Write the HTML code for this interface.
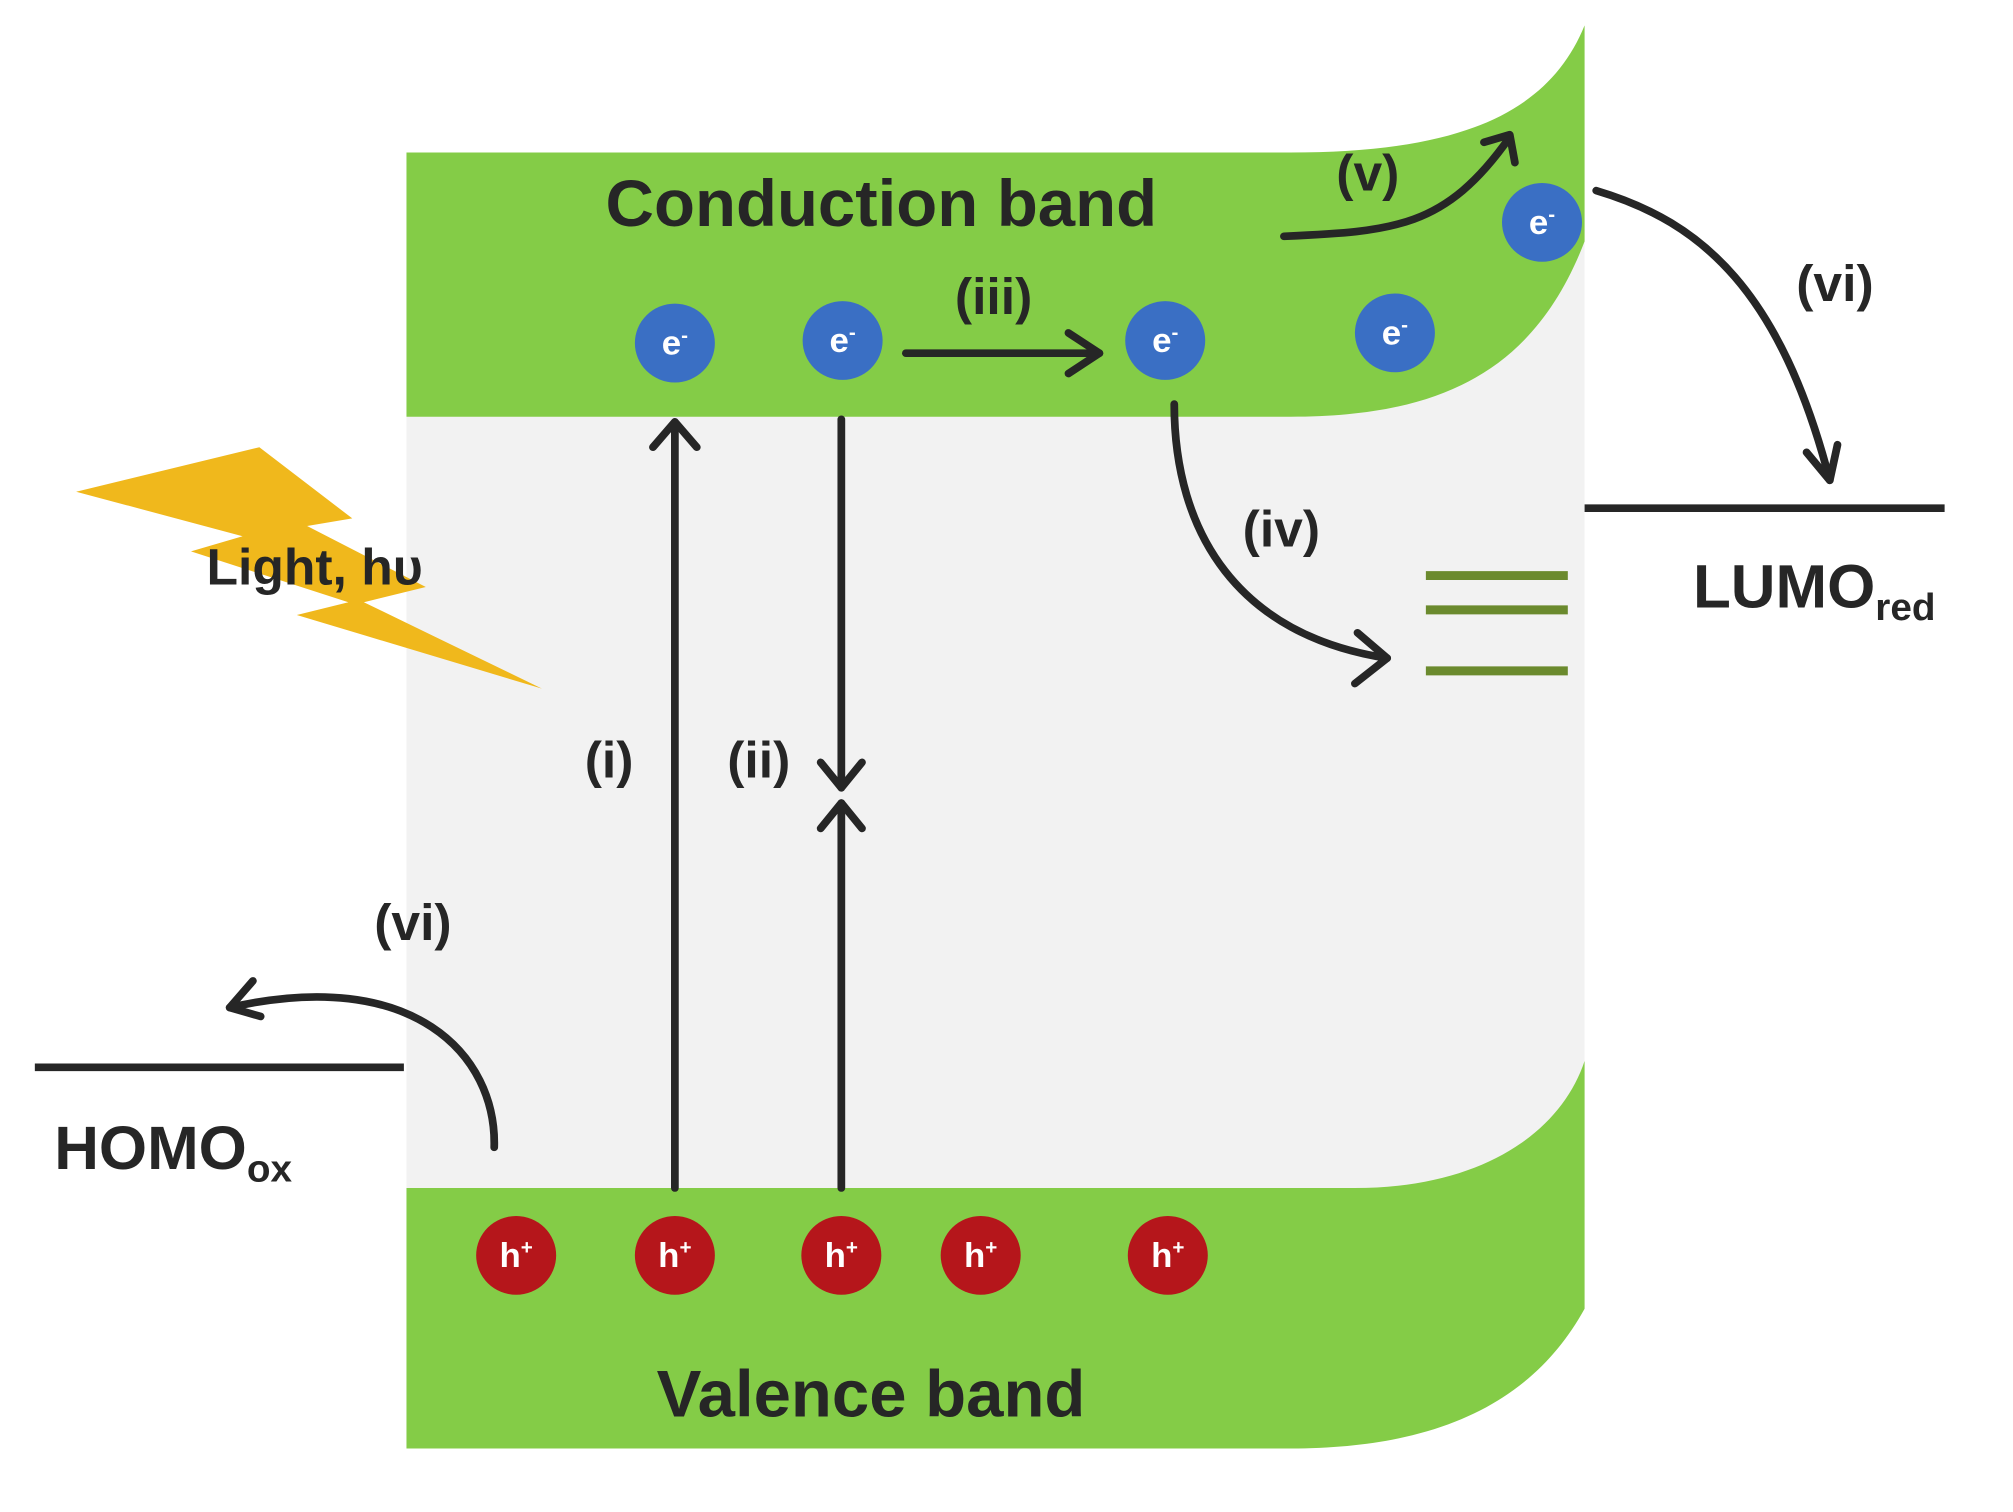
<!DOCTYPE html>
<html><head><meta charset="utf-8"><style>
html,body{margin:0;padding:0;background:#fff;}
svg{display:block;}
text{font-family:"Liberation Sans",sans-serif;font-weight:bold;fill:#262626;}
</style></head><body>
<svg width="2013" height="1512" viewBox="0 0 1560 1190" preserveAspectRatio="none" xmlns="http://www.w3.org/2000/svg">
<rect x="315" y="180" width="913" height="770" fill="#f2f2f2"/>
<path d="M315,120 L1000,120 C1130,120 1200,90 1228,20 L1228,190 C1190,290 1120,328 1000,328 L315,328 Z" fill="#84cc47"/>
<path d="M315,935 L1050,935 C1150,935 1210,890 1228,835 L1228,1030 C1190,1100 1120,1140 1000,1140 L315,1140 Z" fill="#84cc47"/>
<polygon points="59,387 201,352 273,408 238,414 330,462 282,474 420,542 230,484 270,474 148,434 188,422" fill="#f0b81c"/>
<text x="160" y="460" font-size="40">Light, hυ</text>
<text x="683" y="178" font-size="52" text-anchor="middle">Conduction band</text>
<text x="675" y="1115" font-size="52" text-anchor="middle">Valence band</text>
<g stroke="#262626" stroke-width="6" fill="none" stroke-linecap="round" stroke-linejoin="round">
<line x1="523" y1="935" x2="523" y2="335"/><polyline points="506,352 523,332 540,352"/>
<line x1="652" y1="330" x2="652" y2="620"/><polyline points="636,600 652,620 668,600"/>
<line x1="652" y1="935" x2="652" y2="632"/><polyline points="636,652 652,632 668,652"/>
<line x1="702" y1="278" x2="852" y2="278"/><polyline points="828,262 852,278 828,294"/>
<path d="M995,186 C1080,182 1120,180 1170,108"/><polyline points="1150,112 1170,106 1174,128"/>
<path d="M1237,150 C1320,175 1380,230 1418,378"/><polyline points="1400,356 1418,378 1424,350"/>
<path d="M910,318 C910,420 960,500 1075,518"/><polyline points="1052,498 1075,518 1050,538"/>
<path d="M383,903 C385,830 320,760 178,793"/><polyline points="196,772 178,793 202,800"/>
</g>
<line x1="1228" y1="400" x2="1507" y2="400" stroke="#262626" stroke-width="6"/>
<line x1="27" y1="840" x2="313" y2="840" stroke="#262626" stroke-width="6"/>
<g stroke="#6b8a2e" stroke-width="7">
<line x1="1105" y1="453" x2="1215" y2="453"/><line x1="1105" y1="480" x2="1215" y2="480"/><line x1="1105" y1="528" x2="1215" y2="528"/>
</g>
<text x="1312" y="478" font-size="48">LUMO<tspan font-size="30" dy="10">red</tspan></text>
<text x="42" y="920" font-size="48">HOMO<tspan font-size="30" dy="10">ox</tspan></text>
<g font-size="40" text-anchor="middle">
<text x="472" y="612">(i)</text><text x="588" y="612">(ii)</text><text x="770" y="247">(iii)</text>
<text x="993" y="430">(iv)</text><text x="1060" y="150">(v)</text><text x="1422" y="237">(vi)</text><text x="320" y="740">(vi)</text>
</g>
<g fill="#3a6fc4">
<circle cx="523" cy="270" r="31"/><circle cx="653" cy="268" r="31"/><circle cx="903" cy="268" r="31"/><circle cx="1081" cy="262" r="31"/><circle cx="1195" cy="175" r="31"/>
</g>
<g fill="#b5161b">
<circle cx="400" cy="988" r="31"/><circle cx="523" cy="988" r="31"/><circle cx="652" cy="988" r="31"/><circle cx="760" cy="988" r="31"/><circle cx="905" cy="988" r="31"/>
</g>
<g font-size="27" text-anchor="middle">
<text x="523" y="279" style="fill:#fff">e<tspan font-size="16" dy="-10">-</tspan></text>
<text x="653" y="277" style="fill:#fff">e<tspan font-size="16" dy="-10">-</tspan></text>
<text x="903" y="277" style="fill:#fff">e<tspan font-size="16" dy="-10">-</tspan></text>
<text x="1081" y="271" style="fill:#fff">e<tspan font-size="16" dy="-10">-</tspan></text>
<text x="1195" y="184" style="fill:#fff">e<tspan font-size="16" dy="-10">-</tspan></text>
<text x="400" y="997" style="fill:#fff">h<tspan font-size="16" dy="-10">+</tspan></text>
<text x="523" y="997" style="fill:#fff">h<tspan font-size="16" dy="-10">+</tspan></text>
<text x="652" y="997" style="fill:#fff">h<tspan font-size="16" dy="-10">+</tspan></text>
<text x="760" y="997" style="fill:#fff">h<tspan font-size="16" dy="-10">+</tspan></text>
<text x="905" y="997" style="fill:#fff">h<tspan font-size="16" dy="-10">+</tspan></text>
</g>
</svg>
</body></html>
